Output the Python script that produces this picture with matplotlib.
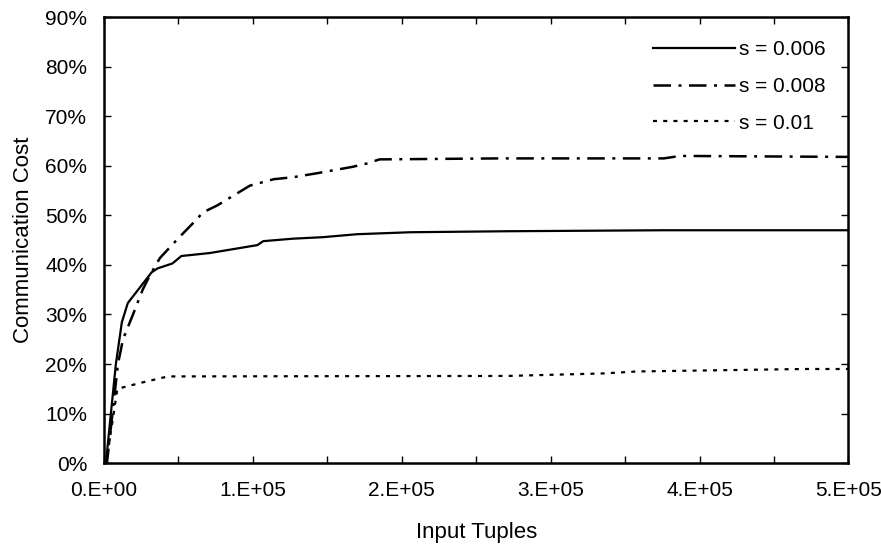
import numpy as np
import matplotlib.pyplot as plt
from matplotlib.ticker import FuncFormatter, MultipleLocator

plt.rcParams['font.family'] = ['Liberation Sans', 'DejaVu Sans']

# s = 0.006 (solid)
x_006 = [0, 1.3e3, 8e3, 1.2e4, 1.6e4, 3.2e4, 3.6e4, 4.6e4, 5.2e4, 7.1e4, 8.3e4,
         1.03e5, 1.07e5, 1.27e5, 1.47e5, 1.7e5, 2.06e5, 2.71e5, 3.76e5, 5e5]
y_006 = [0, 0, 20, 28.4, 32.3, 38.5, 39.3, 40.3, 41.8, 42.4, 43,
         44, 44.8, 45.3, 45.6, 46.2, 46.6, 46.8, 47, 47]

# s = 0.008 (dash-dot)
x_008 = [0, 2e3, 9.4e3, 1.28e4, 1.95e4, 2.6e4, 3.1e4, 3.76e4, 5e4, 6.1e4, 6.65e4,
         7.6e4, 8.7e4, 9.8e4, 1.14e5, 1.27e5, 1.43e5, 1.67e5, 1.77e5, 1.85e5,
         2.66e5, 3.76e5, 3.87e5, 5e5]
y_008 = [0, 0, 20, 25, 30, 35, 38, 41.4, 45.4, 48.8, 50.6,
         52, 54, 56, 57.3, 57.7, 58.5, 59.8, 60.5, 61.3,
         61.5, 61.5, 62, 61.8]

# s = 0.01 (dotted)
x_01 = [0, 1.5e3, 9e3, 2.6e4, 4.3e4, 2.71e5, 3.35e5, 3.58e5, 4.7e5, 5e5]
y_01 = [0, 0, 15, 16.3, 17.5, 17.6, 18.1, 18.5, 19, 19]

fig = plt.figure(figsize=(8.81, 5.54), dpi=100)
ax = fig.add_axes([0.118, 0.164, 0.845, 0.805])

ax.plot(x_006, y_006, color='black', lw=1.6, label='s = 0.006')
ax.plot(x_008, y_008, color='black', lw=1.8, dashes=(7, 3, 1.2, 3), label='s = 0.008')
ax.plot(x_01, y_01, color='black', lw=1.6, dashes=(1.8, 2.8), label='s = 0.01')

ax.set_xlim(0, 5e5)
ax.set_ylim(0, 90)
ax.xaxis.set_major_locator(MultipleLocator(1e5))
ax.xaxis.set_minor_locator(MultipleLocator(5e4))
ax.yaxis.set_major_locator(MultipleLocator(10))
ax.xaxis.set_major_formatter(FuncFormatter(lambda v, p: '%d.E+%02d' % (round(v / 1e5), 0 if v == 0 else 5)))
ax.yaxis.set_major_formatter(FuncFormatter(lambda v, p: '%d%%' % v))

ax.tick_params(which='both', direction='in', top=True, right=True, length=5, width=1)
ax.tick_params(axis='x', which='major', pad=13, labelsize=15)
ax.tick_params(axis='y', which='major', pad=12, labelsize=15)
for sp in ax.spines.values():
    sp.set_linewidth(1.8)

ax.set_xlabel('Input Tuples', fontsize=16, labelpad=16)
ax.set_ylabel('Communication Cost', fontsize=16, labelpad=8)

ax.legend(loc='upper right', frameon=False, fontsize=15, handlelength=3.9,
          handletextpad=0.2, labelspacing=0.85, borderaxespad=0.7)

fig.savefig('out.png', dpi=100)
